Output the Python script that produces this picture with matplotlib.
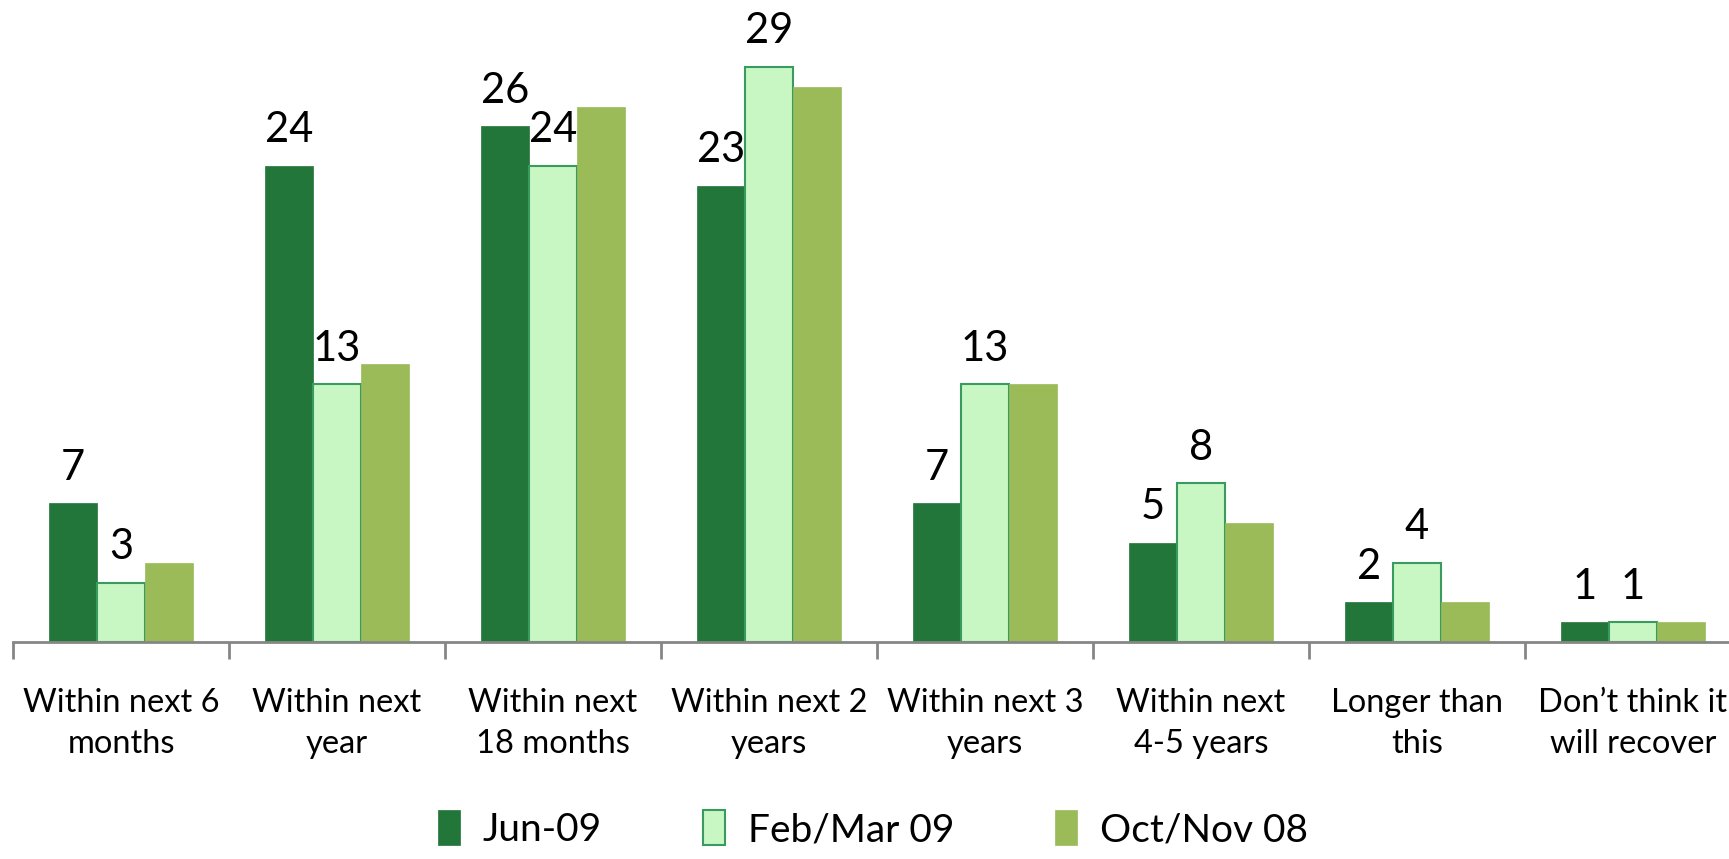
import numpy as np
import matplotlib.pyplot as plt

plt.rcParams['font.family'] = ['Lato', 'DejaVu Sans']

categories = ["Within next 6\nmonths", "Within next\nyear", "Within next\n18 months",
              "Within next 2\nyears", "Within next 3\nyears", "Within next\n4-5 years",
              "Longer than\nthis", "Don\u2019t think it\nwill recover"]
series_names = ["Jun-09", "Feb/Mar 09", "Oct/Nov 08"]
jun09 = [7, 24, 26, 23, 7, 5, 2, 1]
febmar09 = [3, 13, 24, 29, 13, 8, 4, 1]
octnov08 = [4, 14, 27, 28, 13, 6, 2, 1]
show_labels = [True, True, False]

colors = ["#23763A", "#C8F7C4", "#9BBB59"]
edges = ["#23763A", "#3A9B5E", "#9BBB59"]

fig = plt.figure(figsize=(17.29, 8.59), dpi=100)
# axis from x=13px, category width ~216px, baseline at y=642px
left = 13 / 1729
width = 216 * 8 / 1729
bottom = (859 - 642) / 859
ax = fig.add_axes([left, bottom, width, 1 - bottom])

x = np.arange(len(categories))
bw = 0.222
for i, (vals, name) in enumerate(zip([jun09, febmar09, octnov08], series_names)):
    pos = x + (i - 1) * bw
    bars = ax.bar(pos, vals, width=bw, color=colors[i], edgecolor=edges[i],
                  linewidth=1.5 if i == 1 else 0.5, label=name)
    if show_labels[i]:
        for p, v in zip(pos, vals):
            ax.annotate(str(v), (p, v), xytext=(0, 12), textcoords="offset points",
                        ha="center", va="bottom", fontsize=30)

ax.set_xlim(-0.5, 7.5)
ax.set_ylim(0, 642 / 19.83)
for s in ["top", "right", "left"]:
    ax.spines[s].set_visible(False)
ax.spines["bottom"].set_color("#868686")
ax.spines["bottom"].set_linewidth(2)
ax.set_yticks([])
ax.set_xticks(x)
ax.set_xticklabels(categories, fontsize=23.5, linespacing=1.45)
ax.tick_params(axis="x", which="major", length=0, pad=33)
ax.set_xticks(np.arange(-0.5, 8.0, 1.0), minor=True)
ax.tick_params(axis="x", which="minor", length=12, width=2, color="#868686")

# keep the last label inside the figure
ax.get_xticklabels()[-1].set_x(6.97)

fig.legend(loc="lower center", bbox_to_anchor=(0.505, -0.028), ncol=3, frameon=False,
           fontsize=28, handlelength=0.55, handleheight=1.0, columnspacing=2.6,
           handletextpad=0.6)

fig.savefig("out.png", dpi=100)
